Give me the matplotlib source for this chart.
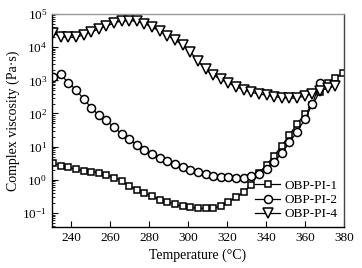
import matplotlib
matplotlib.use("Agg")
import matplotlib.pyplot as plt
import numpy as np
from matplotlib.ticker import LogLocator, NullFormatter, FixedLocator

plt.rcParams['font.family'] = ['Liberation Serif', 'DejaVu Serif']
plt.rcParams['mathtext.fontset'] = 'custom'
plt.rcParams['mathtext.rm'] = 'Liberation Serif'
plt.rcParams['mathtext.it'] = 'Liberation Serif:italic'

temperature = [230.5, 234.4, 238.3, 242.3, 246.2, 250.1, 254.0, 257.9, 261.9, 265.8,
               269.7, 273.6, 277.5, 281.5, 285.4, 289.3, 293.2, 297.1, 301.1, 305.0,
               308.9, 312.8, 316.7, 320.7, 324.6, 328.5, 332.4, 336.3, 340.3, 344.2,
               348.1, 352.0, 355.9, 359.9, 363.8, 367.7, 371.6, 375.5, 379.5]

log_pi1 = [0.50, 0.43, 0.38, 0.32, 0.28, 0.25, 0.22, 0.15, 0.07, -0.03,
           -0.17, -0.30, -0.40, -0.50, -0.60, -0.67, -0.73, -0.80, -0.83, -0.86,
           -0.86, -0.86, -0.78, -0.67, -0.52, -0.37, -0.14, 0.20, 0.46, 0.73,
           1.03, 1.35, 1.69, 1.98, 2.26, 2.66, 2.91, 3.06, 3.21]

log_pi2 = [3.11, 3.18, 2.93, 2.72, 2.44, 2.18, 1.95, 1.79, 1.58, 1.39,
           1.23, 1.05, 0.91, 0.77, 0.67, 0.58, 0.47, 0.39, 0.31, 0.24,
           0.17, 0.12, 0.10, 0.08, 0.07, 0.07, 0.11, 0.17, 0.33, 0.55,
           0.80, 1.13, 1.45, 1.82, 2.28, 2.93]

log_pi4 = [4.42, 4.32, 4.29, 4.30, 4.37, 4.45, 4.55, 4.63, 4.73, 4.79,
           4.80, 4.78, 4.71, 4.60, 4.48, 4.35, 4.22, 4.06, 3.86, 3.58,
           3.33, 3.16, 3.03, 2.91, 2.81, 2.71, 2.64, 2.59, 2.55, 2.51,
           2.48, 2.46, 2.47, 2.53, 2.60, 2.68, 2.76, 2.84]

labels = ['OBP-PI-1', 'OBP-PI-2', 'OBP-PI-4']
x_ticks = [240, 260, 280, 300, 320, 340, 360, 380]
y_ticks = [1e-1, 1e0, 1e1, 1e2, 1e3, 1e4, 1e5]

fig = plt.figure(figsize=(3.62, 2.68), dpi=100)
ax = fig.add_axes([0.1436, 0.153, 0.8064, 0.795])

series = [(log_pi1, 's', 5.0), (log_pi2, 'o', 5.8), (log_pi4, 'v', 6.6)]
for (vals, mk, ms), lab in zip(series, labels):
    t = temperature[:len(vals)]
    v = 10 ** np.array(vals)
    ax.plot(t, v, color='black', lw=0.9, marker=mk, ms=ms, mfc='white',
            mec='black', mew=1.1, label=lab)

ax.set_yscale('log')
ax.set_xlim(230, 380)
ax.set_ylim(0.038, 1e5)
ax.set_xticks(x_ticks)
ax.yaxis.set_major_locator(FixedLocator(y_ticks))
minor = [m * d for d in [1e-2, 1e-1, 1e0, 1e1, 1e2, 1e3, 1e4] for m in range(2, 10)]
minor = [m for m in minor if 0.038 <= m <= 1e5]
ax.yaxis.set_minor_locator(FixedLocator(minor))
ax.yaxis.set_minor_formatter(NullFormatter())

ax.tick_params(axis='both', which='both', direction='in', labelsize=9.5,
               top=False, right=False)
ax.tick_params(axis='both', which='major', length=4, width=0.8)
ax.tick_params(axis='y', which='minor', length=2, width=0.6)
ax.tick_params(axis='x', which='minor', length=0)

ax.spines['top'].set_color('#999999')
ax.spines['right'].set_color('#444444')
for s in ax.spines.values():
    s.set_linewidth(1.0)

ax.set_xlabel('Temperature (°C)', fontsize=10, labelpad=3)
ax.set_ylabel('Complex viscosity (Pa·s)', fontsize=10, labelpad=1.5)

leg = ax.legend(loc='lower right', frameon=False, fontsize=9.5, handlelength=1.9,
                handletextpad=0.3, labelspacing=0.15, borderaxespad=0.1)

fig.savefig('out.png', dpi=100)
